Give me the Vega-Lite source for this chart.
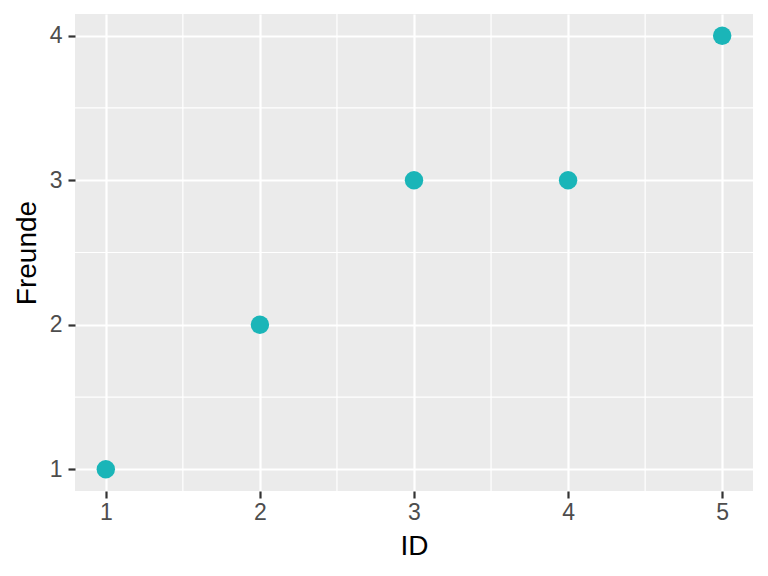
{
  "$schema": "https://vega.github.io/schema/vega-lite/v6.json",
  "width": 678,
  "height": 477,
  "autosize": {"type": "none"},
  "padding": {"left": 75, "top": 14, "right": 15, "bottom": 85},
  "background": "white",
  "config": {
    "view": {"fill": "#EBEBEB", "stroke": null},
    "font": "Liberation Sans"
  },
  "layer": [
    {
      "data": {"values": [{"v": 1.5}, {"v": 2.5}, {"v": 3.5}, {"v": 4.5}]},
      "mark": {"type": "rule", "color": "#FFFFFF", "strokeWidth": 1.2},
      "encoding": {
        "x": {"field": "v", "type": "quantitative", "scale": {"domain": [0.8, 5.2], "nice": false, "zero": false},
          "axis": {"values": [1, 2, 3, 4, 5], "title": "ID", "format": "d", "domain": false, "grid": true, "gridColor": "#FFFFFF", "gridWidth": 2.2, "tickColor": "#333333", "tickWidth": 2.2, "tickSize": 7, "labelColor": "#4D4D4D", "labelFontSize": 23, "labelFont": "Liberation Sans", "labelPadding": 3, "titleFont": "Liberation Sans", "titleFontSize": 28, "titleFontWeight": "normal", "titleColor": "#000000", "titlePadding": 8}}
      }
    },
    {
      "data": {"values": [{"v": 1.5}, {"v": 2.5}, {"v": 3.5}]},
      "mark": {"type": "rule", "color": "#FFFFFF", "strokeWidth": 1.2},
      "encoding": {
        "y": {"field": "v", "type": "quantitative", "scale": {"domain": [0.85, 4.15], "nice": false, "zero": false},
          "axis": {"values": [1, 2, 3, 4], "title": "Freunde", "format": "d", "domain": false, "grid": true, "gridColor": "#FFFFFF", "gridWidth": 2.2, "tickColor": "#333333", "tickWidth": 2.2, "tickSize": 7, "labelColor": "#4D4D4D", "labelFontSize": 23, "labelFont": "Liberation Sans", "labelPadding": 6, "titleFont": "Liberation Sans", "titleFontSize": 28, "titleFontWeight": "normal", "titleColor": "#000000", "titlePadding": 8}}
      }
    },
    {
      "data": {"values": [
        {"ID": 1, "Freunde": 1},
        {"ID": 2, "Freunde": 2},
        {"ID": 3, "Freunde": 3},
        {"ID": 4, "Freunde": 3},
        {"ID": 5, "Freunde": 4}
      ]},
      "mark": {"type": "circle", "size": 340, "color": "#1AB5B8", "opacity": 1},
      "encoding": {
        "x": {"field": "ID", "type": "quantitative", "scale": {"domain": [0.8, 5.2], "nice": false, "zero": false},
          "axis": {"values": [1, 2, 3, 4, 5], "title": "ID", "format": "d", "domain": false, "grid": true, "gridColor": "#FFFFFF", "gridWidth": 2.2, "tickColor": "#333333", "tickWidth": 2.2, "tickSize": 7, "labelColor": "#4D4D4D", "labelFontSize": 23, "labelFont": "Liberation Sans", "labelPadding": 3, "titleFont": "Liberation Sans", "titleFontSize": 28, "titleFontWeight": "normal", "titleColor": "#000000", "titlePadding": 8}},
        "y": {"field": "Freunde", "type": "quantitative", "scale": {"domain": [0.85, 4.15], "nice": false, "zero": false},
          "axis": {"values": [1, 2, 3, 4], "title": "Freunde", "format": "d", "domain": false, "grid": true, "gridColor": "#FFFFFF", "gridWidth": 2.2, "tickColor": "#333333", "tickWidth": 2.2, "tickSize": 7, "labelColor": "#4D4D4D", "labelFontSize": 23, "labelFont": "Liberation Sans", "labelPadding": 6, "titleFont": "Liberation Sans", "titleFontSize": 28, "titleFontWeight": "normal", "titleColor": "#000000", "titlePadding": 8}}
      }
    }
  ]
}
